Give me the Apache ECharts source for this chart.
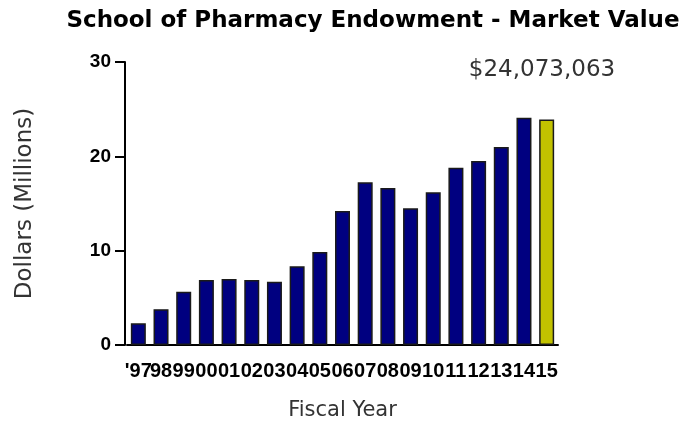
<!DOCTYPE html>
<html>
<head>
<meta charset="utf-8">
<script src="https://cdn.jsdelivr.net/npm/echarts@6/dist/echarts.min.js"></script>
<style>
  html, body { margin: 0; padding: 0; background: #fff; }
  #chart { width: 697px; height: 426px; }
</style>
</head>
<body>
<div id="chart"></div>
<script>
const years = ["'97", '98', '99', '00', '01', '02', '03', '04', '05', '06',
  '07', '08', '09', '10', '11', '12', '13', '14', '15']
const marketValue = [2.3, 3.8, 5.65, 6.9, 7.0, 6.9, 6.7, 8.35, 9.85, 14.2,
  17.25, 16.65, 14.5, 16.2, 18.8, 19.5, 21.0, 24.1, 23.9]
const yTicks = [0, 10, 20, 30]
const latestLabel = '$24,073,063'

const chart = echarts.init(document.getElementById('chart'))

const lastIdx = years.length - 1

chart.setOption({
  animation: false,
  title: [
    {
      text: 'School of Pharmacy Endowment - Market Value',
      left: 368,
      top: 5,
      textAlign: 'center',
      textStyle: {
        fontFamily: 'DejaVu Sans',
        fontWeight: 'bold',
        fontSize: 23,
        color: '#000'
      }
    },
    {
      text: latestLabel,
      left: 537,
      top: 54,
      textAlign: 'center',
      textStyle: {
        fontFamily: 'DejaVu Sans',
        fontWeight: 'normal',
        fontSize: 23,
        color: '#333'
      }
    }
  ],
  grid: {
    left: 127,
    right: 139,
    top: 62,
    bottom: 76
  },
  xAxis: {
    type: 'category',
    data: years,
    name: 'Fiscal Year',
    nameLocation: 'middle',
    nameGap: 55,
    nameTextStyle: {
      fontFamily: 'DejaVu Sans',
      fontSize: 21,
      color: '#333'
    },
    axisLine: {
      lineStyle: { color: '#000', width: 2 }
    },
    axisTick: {
      alignWithLabel: true,
      length: 12,
      lineStyle: { color: '#000', width: 2 }
    },
    axisLabel: {
      interval: 0,
      margin: 16,
      fontFamily: 'Liberation Sans',
      fontWeight: 'bold',
      fontSize: 20,
      color: '#000'
    }
  },
  yAxis: {
    type: 'value',
    min: 0,
    max: 30,
    interval: 10,
    offset: 2,
    name: 'Dollars (Millions)',
    nameLocation: 'middle',
    nameGap: 88,
    nameTextStyle: {
      fontFamily: 'DejaVu Sans',
      fontSize: 23,
      color: '#333'
    },
    axisLine: {
      show: true,
      lineStyle: { color: '#000', width: 2 }
    },
    axisTick: {
      show: true,
      length: 10,
      lineStyle: { color: '#000', width: 2 }
    },
    axisLabel: {
      margin: 14,
      fontFamily: 'Liberation Sans',
      fontWeight: 'bold',
      fontSize: 19,
      color: '#000',
      formatter: (v) => (yTicks.indexOf(v) >= 0 ? String(v) : '')
    },
    splitLine: { show: false }
  },
  series: [
    {
      type: 'bar',
      barWidth: 15,
      data: marketValue.map((v, i) => ({
        value: v,
        itemStyle: { color: i === lastIdx ? '#c2c200' : '#000080' }
      })),
      itemStyle: {
        borderColor: '#1a1a1a',
        borderWidth: 1.5
      }
    }
  ]
})
</script>
</body>
</html>
